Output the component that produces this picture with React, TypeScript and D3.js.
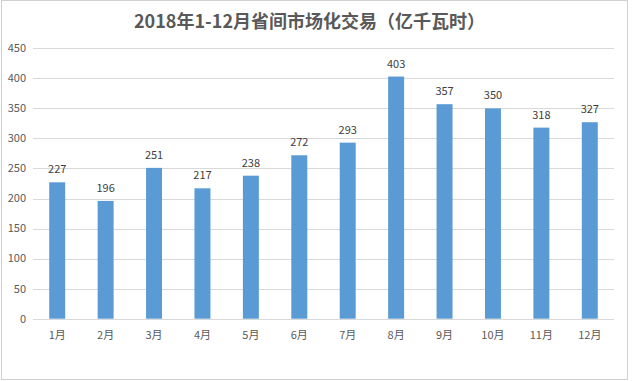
import React from "react";
import * as d3 from "d3";

const months = ["1月","2月","3月","4月","5月","6月","7月","8月","9月","10月","11月","12月"];
const values = [227,196,251,217,238,272,293,403,357,350,318,327];
const yTicks = [0,50,100,150,200,250,300,350,400,450];
const title = "2018年1-12月省间市场化交易（亿千瓦时）";

export default function App() {
  const W = 632, H = 381;
  const left = 33, right = 614, top = 48.3, bottom = 318.7;
  const x = d3.scaleBand<string>().domain(months).range([left, right]).paddingInner(0.67).paddingOuter(0.335);
  const y = d3.scaleLinear().domain([0, 450]).range([bottom, top]);
  const font = "'Noto Sans CJK SC', 'Noto Sans', sans-serif";
  return (
    <div style={{ position: "fixed", left: 0, top: 0 }}>
      <svg width={W} height={H} style={{ display: "block", background: "#fff" }} fontFamily={font}>
        <rect x={1.5} y={0.5} width={626} height={379} fill="#fff" stroke="#d0d0d0" />
        <text x={309.5} y={28} textAnchor="middle" fontSize={18} fontWeight="bold" fill="#595959">{title}</text>
        {yTicks.map(t => (
          <g key={t}>
            <line x1={left} x2={right} y1={Math.round(y(t)) + 0.5} y2={Math.round(y(t)) + 0.5} stroke="#d9d9d9" strokeWidth={1} />
            <text x={26} y={y(t)} dy="0.35em" textAnchor="end" fontSize={11} fill="#595959">{t}</text>
          </g>
        ))}
        {months.map((m, i) => (
          <g key={m}>
            <rect x={x(m)!} y={y(values[i])} width={x.bandwidth()} height={y(0) - y(values[i])} fill="#5B9BD5" />
            <text x={x(m)! + x.bandwidth() / 2} y={y(values[i]) - 9} textAnchor="middle" fontSize={11} fill="#404040">{values[i]}</text>
            <text x={x(m)! + x.bandwidth() / 2} y={y(0) + 20} textAnchor="middle" fontSize={11} fill="#595959">{m}</text>
          </g>
        ))}
      </svg>
    </div>
  );
}
